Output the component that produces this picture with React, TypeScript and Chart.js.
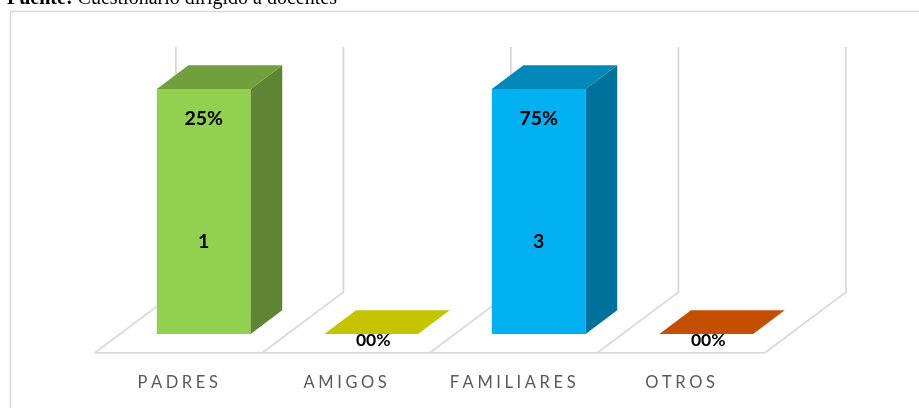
import React, { useEffect, useRef } from "react";
import { Chart, registerables } from "chart.js";

Chart.register(...registerables);

// ---- data ----
const categories = ["PADRES", "AMIGOS", "FAMILIARES", "OTROS"];
const counts = [1, 0, 3, 0];
const percents = [0.25, 0, 0.75, 0];
const frontColors = ["#92D050", "#FFFF00", "#00B0F0", "#FF6600"];

// 100% stacked shares (count segment below, percent segment above)
const totals = counts.map((c, i) => c + percents[i]);
const countShare = counts.map((c, i) => (totals[i] ? (c / totals[i]) * 100 : 0));
const percentShare = percents.map((p, i) => (totals[i] ? (p / totals[i]) * 100 : 0));

const formatPct = (v: number) => {
  const n = Math.round(v * 100);
  return (n < 10 ? "0" + n : String(n)) + "%";
};

function shade(hex: string, k: number) {
  const h = hex.replace("#", "");
  const r = Math.round(parseInt(h.slice(0, 2), 16) * k);
  const g = Math.round(parseInt(h.slice(2, 4), 16) * k);
  const b = Math.round(parseInt(h.slice(4, 6), 16) * k);
  return `rgb(${r},${g},${b})`;
}

// 3D geometry (perspective depth vector of the whole floor, and bar placement in depth)
const DEPTH_X = 81;
const DEPTH_Y = -60.7;
const BAR_FRONT = 0.31;
const BAR_DEPTH = 0.39;
const GRID = "#D9D9D9";

const plugin3d = {
  id: "threeD",
  beforeDatasetsDraw(chart: any) {
    const ctx = chart.ctx as CanvasRenderingContext2D;
    const { left, right, bottom } = chart.chartArea;
    const yTop = chart.scales.y.getPixelForValue(100);
    const fx = -BAR_FRONT * DEPTH_X;
    const fy = -BAR_FRONT * DEPTH_Y;
    const bx = (1 - BAR_FRONT) * DEPTH_X;
    const by = (1 - BAR_FRONT) * DEPTH_Y;
    const n = categories.length;
    const slot = (right - left) / n;
    ctx.save();
    // outer frame
    ctx.strokeStyle = GRID;
    ctx.lineWidth = 1.5;
    ctx.strokeRect(10.5, 11.5, 3000, 3000);
    // floor + back wall lines
    ctx.lineWidth = 1.8;
    ctx.beginPath();
    ctx.moveTo(left + fx, bottom + fy);
    ctx.lineTo(right + fx, bottom + fy);
    for (let k = 0; k <= n; k++) {
      const x = left + k * slot;
      ctx.moveTo(x + fx, bottom + fy);
      ctx.lineTo(x + bx, bottom + by);
      ctx.lineTo(x + bx, yTop + by);
    }
    ctx.stroke();
    ctx.restore();
  },
  afterDatasetsDraw(chart: any) {
    const ctx = chart.ctx as CanvasRenderingContext2D;
    const yScale = chart.scales.y;
    const { bottom } = chart.chartArea;
    const meta0 = chart.getDatasetMeta(0);
    const dx = BAR_DEPTH * DEPTH_X;
    const dy = BAR_DEPTH * DEPTH_Y;
    const fx = -BAR_FRONT * DEPTH_X;
    const fy = -BAR_FRONT * DEPTH_Y;
    ctx.save();
    categories.forEach((cat, i) => {
      const el = meta0.data[i];
      const x = el.x;
      const w = el.width;
      const base = yScale.getPixelForValue(0);
      const midY = yScale.getPixelForValue(countShare[i]);
      const top = yScale.getPixelForValue(countShare[i] + percentShare[i]);
      const xl = x - w / 2;
      const xr = x + w / 2;
      const col = frontColors[i];
      // side face
      if (top < base - 0.5) {
        ctx.fillStyle = shade(col, 0.64);
        ctx.beginPath();
        ctx.moveTo(xr, top);
        ctx.lineTo(xr + dx, top + dy);
        ctx.lineTo(xr + dx, base + dy);
        ctx.lineTo(xr, base);
        ctx.closePath();
        ctx.fill();
      }
      // top face
      ctx.fillStyle = shade(col, 0.77);
      ctx.beginPath();
      ctx.moveTo(xl, top);
      ctx.lineTo(xl + dx, top + dy);
      ctx.lineTo(xr + dx, top + dy);
      ctx.lineTo(xr, top);
      ctx.closePath();
      ctx.fill();

      // data labels
      ctx.fillStyle = "#000";
      ctx.textAlign = "center";
      ctx.textBaseline = "middle";
      if (totals[i] > 0) {
        ctx.font = "bold 19.5px Lato";
        if (counts[i] > 0) ctx.fillText(String(counts[i]), x, (base + midY) / 2 + 5.5);
        ctx.fillText(formatPct(percents[i]), x, (midY + top) / 2 + 5.5);
      } else {
        ctx.font = "bold 17.5px Lato";
        ctx.fillText(formatPct(percents[i]), x + 2, base + 6.5);
      }

      // category label (letter-spaced)
      ctx.font = "16.5px Lato";
      ctx.fillStyle = "#595959";
      ctx.textAlign = "left";
      const spacing = 3.6;
      const chars = cat.split("");
      const widths = chars.map((c) => ctx.measureText(c).width);
      const total = widths.reduce((a, b) => a + b, 0) + spacing * (chars.length - 1);
      let cx = x + fx - 1 - total / 2;
      const ly = bottom + fy + 30;
      chars.forEach((c, j) => {
        ctx.fillText(c, cx, ly);
        cx += widths[j] + spacing;
      });
    });
    ctx.restore();
  },
};

export default function App() {
  const ref = useRef<HTMLCanvasElement>(null);
  useEffect(() => {
    if (!ref.current) return;
    const chart = new Chart(ref.current, {
      type: "bar",
      data: {
        labels: categories,
        datasets: [
          {
            label: "Cantidad",
            data: countShare,
            backgroundColor: frontColors,
            borderWidth: 0,
            categoryPercentage: 1,
            barPercentage: 0.56,
          },
          {
            label: "Porcentaje",
            data: percentShare,
            backgroundColor: frontColors,
            borderWidth: 0,
            categoryPercentage: 1,
            barPercentage: 0.56,
          },
        ],
      },
      options: {
        responsive: false,
        animation: false,
        events: [],
        layout: { padding: { left: 120, right: 129, top: 89, bottom: 74 } },
        plugins: { legend: { display: false }, tooltip: { enabled: false } },
        scales: {
          x: { stacked: true, display: false, grid: { display: false } },
          y: { stacked: true, display: false, min: 0, max: 100 },
        },
      },
      plugins: [plugin3d],
    });
    return () => chart.destroy();
  }, []);
  return (
    <div
      style={{
        position: "fixed",
        left: 0,
        top: 0,
        width: 919,
        height: 408,
        overflow: "hidden",
        background: "#fff",
      }}
    >
      <canvas ref={ref} width={919} height={408} style={{ position: "absolute", left: 0, top: 0 }} />
      <div
        style={{
          position: "absolute",
          left: 7,
          top: -13,
          fontFamily: '"Liberation Serif", "Times New Roman", serif',
          fontSize: 20,
          lineHeight: "20px",
          whiteSpace: "nowrap",
          color: "#000",
        }}
      >
        <b>Fuente:</b> Cuestionario dirigido a docentes
      </div>
    </div>
  );
}
